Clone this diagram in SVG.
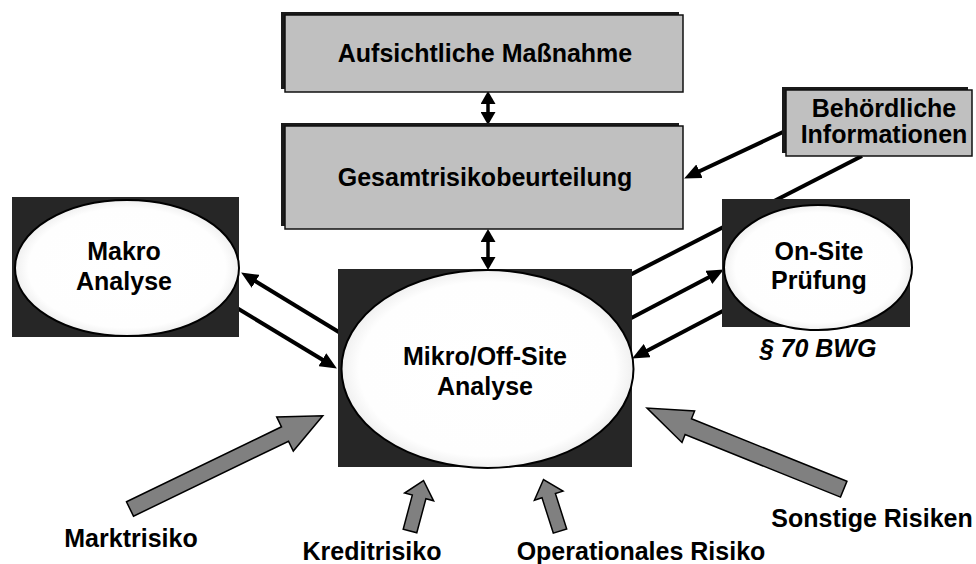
<svg xmlns="http://www.w3.org/2000/svg" width="976" height="564" viewBox="0 0 976 564">
  <style>
    text { font-family: "Liberation Sans", Arial, sans-serif; font-weight: bold; font-size: 25px; fill: #000; text-anchor: middle; }
    .shadow { fill: #1a1a1a; }
    .box { fill: #c0c0c0; stroke: #111; stroke-width: 1.5; }
    .frame { fill: #262626; }
    .oval { fill: url(#ovalFill); stroke: #000; stroke-width: 2; }
    .link { stroke: #000; stroke-width: 4; fill: none; marker-end: url(#head); }
    .pair { stroke: #000; stroke-width: 3.5; fill: none; marker-start: url(#headSmall); marker-end: url(#headSmall); }
    .risk { fill: #808080; stroke: #000; stroke-width: 1.5; stroke-linejoin: miter; }
  </style>
  <defs>
    <radialGradient id="ovalFill" cx="50%" cy="50%" r="50%">
      <stop offset="0" stop-color="#ffffff"/>
      <stop offset="0.88" stop-color="#fefefe"/>
      <stop offset="1" stop-color="#f0f0f0"/>
    </radialGradient>
    <marker id="head" markerUnits="userSpaceOnUse" markerWidth="17" markerHeight="15" refX="6" refY="7.5" orient="auto-start-reverse">
      <path d="M0,0 L17,7.5 L0,15 z" fill="#000"/>
    </marker>
    <marker id="headSmall" markerUnits="userSpaceOnUse" markerWidth="13" markerHeight="15" refX="9" refY="7.5" orient="auto-start-reverse">
      <path d="M0,0 L13,7.5 L0,15 z" fill="#000"/>
    </marker>
  </defs>

  <!-- connectors -->
  <g id="connectors">
    <line class="pair" x1="488" y1="95" x2="488" y2="121"/>
    <line class="pair" x1="488" y1="233" x2="488" y2="266"/>
    <line class="link" x1="783" y1="132" x2="694.1" y2="173.8"/>
    <line class="link" x1="862" y1="156" x2="595.9" y2="292.4"/>
    <line class="link" x1="347" y1="337" x2="250.5" y2="278.2"/>
    <line class="link" x1="232" y1="305" x2="327.5" y2="362.8"/>
    <line class="link" x1="618" y1="325" x2="714.1" y2="274.6"/>
    <line class="link" x1="738" y1="303" x2="641.9" y2="353.4"/>
  </g>

  <!-- supervisory measure -->
  <g id="massnahme">
    <rect class="shadow" x="281" y="12" width="398" height="77"/>
    <rect class="box" x="285" y="15" width="398" height="77"/>
    <text x="485" y="62">Aufsichtliche Maßnahme</text>
  </g>

  <!-- overall risk assessment -->
  <g id="gesamtrisiko">
    <rect class="shadow" x="281" y="123" width="398" height="103"/>
    <rect class="box" x="285" y="126" width="398" height="103"/>
    <text x="485" y="186">Gesamtrisikobeurteilung</text>
  </g>

  <!-- authority information -->
  <g id="behoerdlich">
    <rect class="shadow" x="782" y="87" width="186" height="66"/>
    <rect class="box" x="786" y="90" width="186" height="66"/>
    <text x="884" y="117">Behördliche</text>
    <text x="884" y="143">Informationen</text>
  </g>

  <!-- macro analysis -->
  <g id="makro">
    <rect class="frame" x="12" y="197" width="227" height="140"/>
    <ellipse class="oval" cx="127" cy="268" rx="112" ry="68"/>
    <text x="124" y="260">Makro</text>
    <text x="124" y="290">Analyse</text>
  </g>

  <!-- micro / off-site analysis -->
  <g id="mikro">
    <rect class="frame" x="338" y="269" width="294" height="198"/>
    <ellipse class="oval" cx="487.5" cy="369" rx="146" ry="99"/>
    <text x="485" y="365">Mikro/Off-Site</text>
    <text x="485" y="395">Analyse</text>
  </g>

  <!-- on-site inspection -->
  <g id="onsite">
    <rect class="frame" x="722" y="199" width="188" height="128"/>
    <ellipse class="oval" cx="818" cy="267.5" rx="94" ry="62.5"/>
    <text x="819" y="260">On-Site</text>
    <text x="819" y="289">Prüfung</text>
    <text x="818" y="357" font-style="italic">§ 70 BWG</text>
  </g>

  <!-- risk inputs -->
  <g id="marktrisiko">
    <polygon class="risk" points="126.5,501.8 281.5,426.8 276.7,416.9 322.8,415.7 293.3,451.1 288.5,441.2 133.5,516.2"/>
    <text x="131" y="547">Marktrisiko</text>
  </g>
  <g id="kreditrisiko">
    <polygon class="risk" points="403.2,529.2 412.3,495.1 404.6,493 423.5,480.5 433.6,500.8 425.9,498.7 416.8,532.8"/>
    <text x="372" y="560">Kreditrisiko</text>
  </g>
  <g id="operationales">
    <polygon class="risk" points="553.3,533.1 542,497.8 534.4,500.3 543.5,479.5 563,491.1 555.4,493.6 566.7,528.9"/>
    <text x="641" y="560">Operationales Risiko</text>
  </g>
  <g id="sonstige">
    <polygon class="risk" points="846.9,481.3 691.5,418.8 694.6,410.9 647,408 682,442.5 685.1,434.6 840.5,497.1"/>
    <text x="872" y="527">Sonstige Risiken</text>
  </g>
</svg>
